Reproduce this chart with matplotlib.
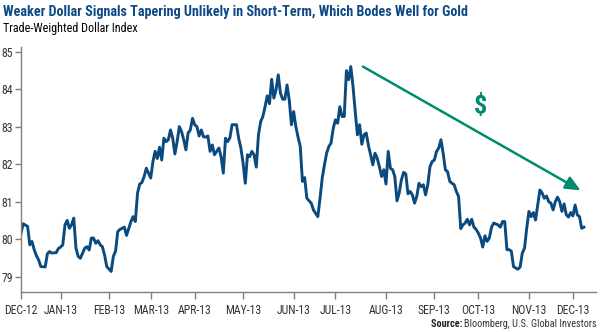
import matplotlib
matplotlib.use("Agg")
import matplotlib.pyplot as plt

# trading-day index since the start of the series, and index value
days = [0, 1, 3, 4, 5, 6, 7, 8, 9, 11, 12, 13, 14, 16, 17, 18, 19, 20, 21, 22,
        23, 24, 25, 26, 27, 29, 30, 31, 32, 33, 34, 35, 36, 37, 38, 39, 41, 42, 43, 44,
        45, 47, 48, 50, 51, 52, 53, 54, 55, 56, 57, 58, 59, 60, 61, 62, 63, 64, 65, 66,
        67, 68, 69, 70, 71, 72, 73, 74, 75, 76, 77, 78, 79, 80, 81, 82, 83, 84, 85, 86,
        87, 88, 89, 90, 91, 92, 93, 94, 95, 96, 98, 99, 100, 101, 102, 103, 104, 105, 106, 107,
        108, 109, 110, 111, 112, 113, 114, 115, 116, 117, 118, 119, 120, 121, 122, 123, 124, 125, 126, 127,
        128, 129, 130, 132, 133, 134, 135, 136, 137, 138, 139, 140, 141, 142, 143, 144, 145, 146, 147, 148,
        149, 150, 151, 152, 153, 154, 155, 156, 157, 158, 159, 160, 161, 162, 163, 164, 165, 166, 167, 168,
        169, 170, 171, 172, 173, 174, 175, 176, 177, 178, 179, 180, 181, 182, 183, 184, 185, 186, 187, 188,
        189, 190, 191, 192, 193, 194, 195, 196, 197, 198, 199, 200, 201, 202, 203, 204, 205, 206, 207, 208,
        209, 210, 211, 212, 213, 214, 215, 217, 218, 219, 220, 221, 222, 223, 224, 225, 226, 227, 228, 229,
        230, 231, 232, 233, 234, 235, 236, 237, 238, 239, 240, 241, 242, 243, 244, 245, 246, 247, 248, 249,
        250, 251, 252, 253, 254, 255, 256]
dollar_index = [80.16, 80.41, 80.34, 79.85, 79.94, 79.72, 79.56, 79.45, 79.27, 79.26, 79.61, 79.67, 79.63, 79.64, 79.75, 79.79, 79.85, 80.38, 80.50, 80.29,
                80.38, 80.56, 79.76, 79.54, 79.49, 79.76, 79.80, 79.71, 80.03, 80.03, 79.89, 79.96, 79.85, 79.80, 79.58, 79.27, 79.14, 79.54, 79.68, 80.20,
                80.26, 80.32, 80.10, 80.47, 80.60, 80.47, 81.23, 81.47, 81.51, 81.67, 81.89, 81.76, 81.63, 82.07, 82.34, 82.15, 82.45, 82.11, 82.69, 82.60,
                82.65, 82.91, 82.69, 82.27, 82.60, 83.00, 82.87, 82.65, 82.38, 82.83, 82.91, 83.22, 83.05, 83.00, 82.75, 82.91, 82.73, 82.72, 82.75, 82.34,
                82.51, 82.25, 82.34, 82.43, 82.20, 81.76, 82.69, 82.60, 82.70, 83.05, 83.05, 82.69, 82.43, 82.03, 81.49, 82.25, 82.20, 82.34, 82.25, 81.92,
                82.78, 83.13, 83.27, 83.53, 83.82, 83.61, 84.26, 83.76, 83.98, 84.38, 83.89, 83.73, 83.73, 84.11, 83.71, 83.05, 83.40, 83.00, 82.72, 82.47,
                81.54, 81.64, 81.09, 80.96, 80.78, 80.69, 80.60, 81.09, 81.63, 81.98, 82.29, 82.47, 82.56, 82.95, 83.18, 83.09, 83.53, 83.27, 83.27, 84.49,
                84.25, 84.60, 84.07, 83.40, 82.78, 83.05, 82.53, 82.78, 82.83, 82.50, 82.25, 81.98, 82.29, 82.16, 81.93, 81.67, 81.85, 81.47, 82.34, 81.89,
                81.85, 81.67, 81.02, 81.23, 81.58, 81.78, 81.74, 81.21, 81.27, 81.18, 80.96, 81.14, 81.49, 81.40, 81.45, 81.18, 81.45, 81.93, 82.07, 82.11,
                82.34, 82.43, 82.65, 82.29, 81.85, 81.80, 81.54, 81.49, 81.45, 81.27, 81.14, 80.28, 80.38, 80.43, 80.53, 80.38, 80.53, 80.32, 80.26, 80.16,
                80.03, 79.79, 80.09, 79.94, 80.03, 80.32, 80.43, 80.38, 80.32, 80.47, 80.47, 79.72, 79.72, 79.68, 79.27, 79.23, 79.20, 79.26, 79.63, 79.76,
                80.29, 80.74, 80.60, 80.71, 80.51, 80.91, 81.31, 81.23, 81.09, 81.15, 81.00, 80.96, 80.78, 81.00, 81.12, 81.00, 80.74, 80.94, 80.65, 80.59,
                80.71, 80.62, 80.91, 80.65, 80.60, 80.29, 80.32]

month_days = [0, 18, 40, 59, 79, 101, 124, 143, 166, 188, 208, 231, 251]
month_labels = ["DEC-12", "JAN-13", "FEB-13", "MAR-13", "APR-13", "MAY-13", "JUN-13",
                "JUL-13", "AUG-13", "SEP-13", "OCT-13", "NOV-13", "DEC-13"]
y_ticks = [79, 80, 81, 82, 83, 84, 85]

plt.rcParams['font.family'] = ['Liberation Sans Narrow', 'Roboto Condensed',
                               'DejaVu Sans Condensed', 'Liberation Sans', 'DejaVu Sans']

blue = "#0b4a7f"
green = "#008a6e"
grey = "#7f7f7f"

fig = plt.figure(figsize=(6, 3.32), dpi=100)
ax = fig.add_axes([0.035, 0.1214, 0.9583, 0.738])
ax.plot(days, dollar_index, color=blue, lw=2.1, solid_joinstyle="round")

ax.set_xlim(0, 261.5)
ax.set_ylim(78.6, 85.13)
ax.set_xticks(month_days)
ax.set_xticklabels(month_labels)
ax.set_yticks(y_ticks)
for s in ["top", "right"]:
    ax.spines[s].set_visible(False)
for s in ["left", "bottom"]:
    ax.spines[s].set_color(grey)
    ax.spines[s].set_linewidth(1.0)
ax.tick_params(axis="both", direction="out", colors=grey, labelcolor="#333333",
               labelsize=8.5, length=5, width=1.0)
ax.tick_params(axis="y", length=4, pad=2)
ax.tick_params(axis="x", pad=4)

# trend arrow and dollar sign
ax.annotate("", xy=(254.5, 81.3), xytext=(155.5, 84.6),
            arrowprops=dict(arrowstyle="-|>,head_length=0.9,head_width=0.4",
                            color=green, lw=1.8, shrinkA=0, shrinkB=0))
ax.text(209, 83.55, "$", color=green, fontsize=19, fontweight="bold",
        ha="center", va="center")

fig.text(0.005, 0.965, "Weaker Dollar Signals Tapering Unlikely in Short-Term, Which Bodes Well for Gold",
         color="#0d4a85", fontsize=10.2, fontweight="bold", ha="left", va="center")
fig.text(0.005, 0.915, "Trade-Weighted Dollar Index", color="black", fontsize=8.7,
         ha="left", va="center")

src = fig.text(0.995, 0.024, "Bloomberg, U.S. Global Investors", color="#333333",
               fontsize=7.4, ha="right", va="center")
fig.canvas.draw()
bb = src.get_window_extent()
fig.text(bb.x0 / fig.bbox.width, 0.024, "Source: ", color="#222222", fontsize=7.4,
         fontweight="bold", ha="right", va="center")

fig.savefig("out.png", dpi=100)
